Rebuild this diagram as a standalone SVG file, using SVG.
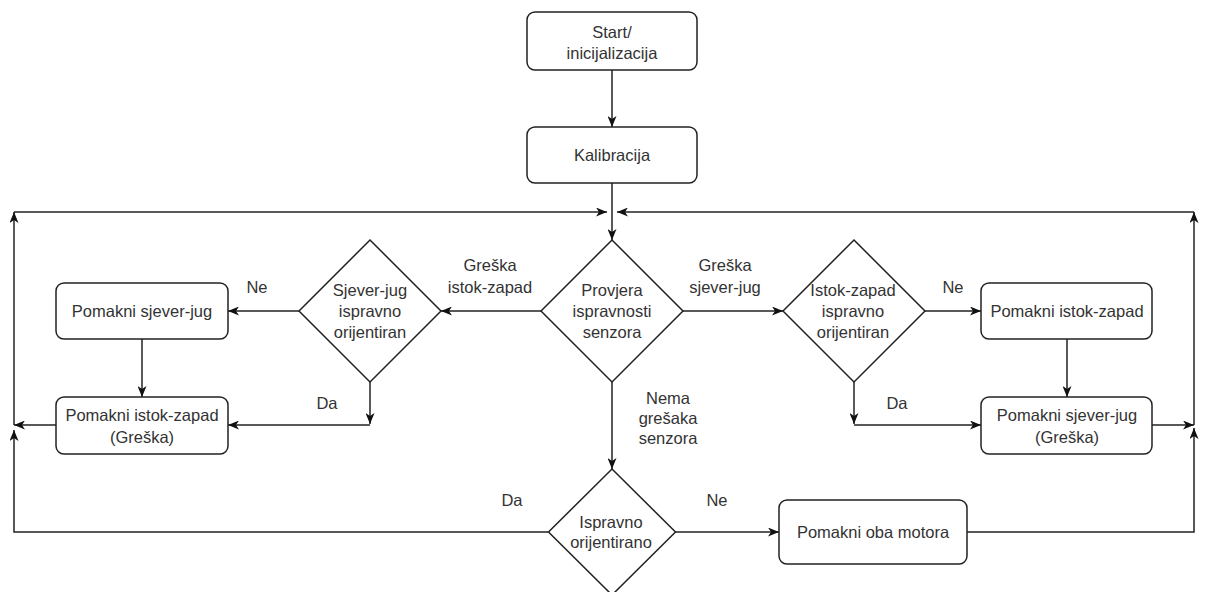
<svg xmlns="http://www.w3.org/2000/svg" width="1206" height="592" viewBox="0 0 1206 592">
<style>
.box{fill:#fff;stroke:#222;stroke-width:1.5}
.dia{fill:#fff;stroke:#222;stroke-width:1.5}
.ea{fill:none;stroke:#222;stroke-width:1.5;marker-end:url(#arr)}
text{font-family:"Liberation Sans",Arial,sans-serif;font-size:16.5px;fill:#333;text-anchor:middle;dominant-baseline:central}
</style>
<defs>
<marker id="arr" viewBox="0 0 11 9" refX="11" refY="4.5" markerWidth="11" markerHeight="9" markerUnits="userSpaceOnUse" orient="auto">
<path d="M0,0 L11,4.5 L0,9 L3,4.5 Z" fill="#111"/>
</marker>
</defs>
<rect width="1206" height="592" fill="#fff"/>
<g id="connectors">
<path class="ea" d="M612,70 V127"/>
<path class="ea" d="M612,183 V240"/>
<path class="ea" d="M14,212 H607"/>
<path class="ea" d="M14,425 V212"/>
<path class="ea" d="M56,425 H14"/>
<path class="ea" d="M548,532 H14 V430"/>
<path class="ea" d="M1194,212 H617"/>
<path class="ea" d="M1194,425 V212"/>
<path class="ea" d="M1152,425 H1194"/>
<path class="ea" d="M967,532 H1194 V428"/>
<path class="ea" d="M541,311 H441"/>
<path class="ea" d="M299,311 H228"/>
<path class="ea" d="M142,339 V397"/>
<path class="ea" d="M370,382 V424"/>
<path class="ea" d="M370,425 H228"/>
<path class="ea" d="M683,311 H783"/>
<path class="ea" d="M925,311 H981"/>
<path class="ea" d="M1067,339 V397"/>
<path class="ea" d="M854,382 V424"/>
<path class="ea" d="M854,425 H981"/>
<path class="ea" d="M612,382 V469"/>
<path class="ea" d="M675,532 H779"/>
<text x="257" y="287">Ne</text>
<text x="327" y="403">Da</text>
<text x="953" y="287">Ne</text>
<text x="897" y="403">Da</text>
<text x="490" y="265">Greška</text>
<text x="490" y="287">istok-zapad</text>
<text x="725" y="265">Greška</text>
<text x="725" y="287">sjever-jug</text>
<text x="668" y="398">Nema</text>
<text x="668" y="418">grešaka</text>
<text x="668" y="438">senzora</text>
<text x="512" y="500">Da</text>
<text x="717" y="500">Ne</text>
</g>
<g id="start">
<rect class="box" x="527" y="12" width="170" height="58" rx="8"/>
<text x="612" y="32">Start/</text>
<text x="612" y="53">inicijalizacija</text>
</g>
<g id="kalibracija">
<rect class="box" x="527" y="127" width="170" height="56" rx="8"/>
<text x="612" y="155">Kalibracija</text>
</g>
<g id="provjera">
<polygon class="dia" points="612,240 683,311 612,382 541,311"/>
<text x="612" y="290">Provjera</text>
<text x="612" y="311">ispravnosti</text>
<text x="612" y="332">senzora</text>
</g>
<g id="sjever-jug-dec">
<polygon class="dia" points="370,240 441,311 370,382 299,311"/>
<text x="370" y="290">Sjever-jug</text>
<text x="370" y="311">ispravno</text>
<text x="370" y="332">orijentiran</text>
</g>
<g id="istok-zapad-dec">
<polygon class="dia" points="854,240 925,311 854,382 783,311"/>
<text x="853" y="290">Istok-zapad</text>
<text x="853" y="311">ispravno</text>
<text x="853" y="332">orijentiran</text>
</g>
<g id="pomakni-sj-left">
<rect class="box" x="56" y="283" width="172" height="56" rx="8"/>
<text x="142" y="311">Pomakni sjever-jug</text>
</g>
<g id="pomakni-iz-left">
<rect class="box" x="56" y="397" width="172" height="57" rx="8"/>
<text x="142" y="415">Pomakni istok-zapad</text>
<text x="142" y="437">(Greška)</text>
</g>
<g id="pomakni-iz-right">
<rect class="box" x="981" y="283" width="171" height="56" rx="8"/>
<text x="1067" y="311">Pomakni istok-zapad</text>
</g>
<g id="pomakni-sj-right">
<rect class="box" x="981" y="397" width="171" height="57" rx="8"/>
<text x="1067" y="415">Pomakni sjever-jug</text>
<text x="1067" y="437">(Greška)</text>
</g>
<g id="ispravno">
<polygon class="dia" points="612,469 675.5,532 612,595 548.5,532"/>
<text x="611" y="522">Ispravno</text>
<text x="611" y="542">orijentirano</text>
</g>
<g id="pomakni-oba">
<rect class="box" x="779" y="500" width="188" height="64" rx="8"/>
<text x="873" y="532">Pomakni oba motora</text>
</g>
</svg>
